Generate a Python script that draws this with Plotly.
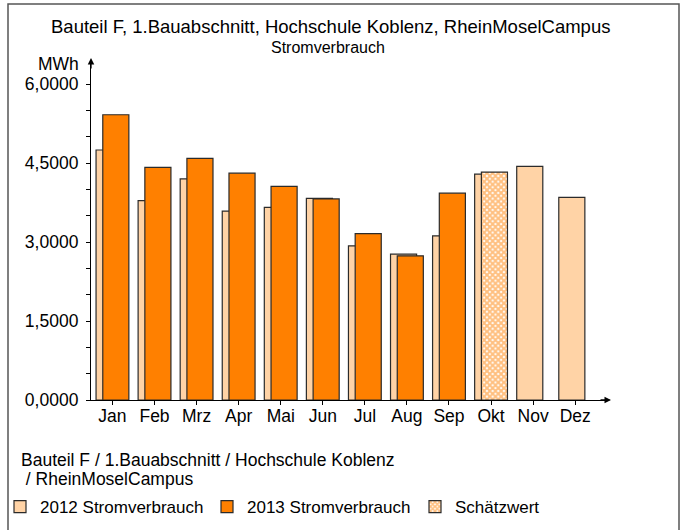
import plotly.graph_objects as go

# Monthly electricity consumption (MWh)
months = ["Jan", "Feb", "Mrz", "Apr", "Mai", "Jun", "Jul", "Aug", "Sep", "Okt", "Nov", "Dez"]
verbrauch_2012 = [4.75, 3.79, 4.20, 3.59, 3.66, 3.83, 2.93, 2.77, 3.12, 4.29, 4.44, 3.85]
months_2013 = ["Jan", "Feb", "Mrz", "Apr", "Mai", "Jun", "Jul", "Aug", "Sep"]
verbrauch_2013 = [5.42, 4.42, 4.59, 4.31, 4.06, 3.82, 3.16, 2.74, 3.93]
months_schaetz = ["Okt"]
schaetzwert = [4.33]

COLORS = {
    'light': '#FFD3A6',
    'orange': '#FF8000',
    'edge': '#2B2B2B',
    'text': '#000000',
}

W, H = 683, 530
L, R, T, B = 91, 75, 60, 130
PW, PH = W - L - R, H - T - B


def px_x(x):
    return (x - L) / PW


def px_y(y):
    return (H - B - y) / PH


BAR_W = 0.62
SHIFT = 0.08
edge = dict(color=COLORS['edge'], width=1.2)

fig = go.Figure()
fig.add_trace(go.Bar(x=months, y=verbrauch_2012, name="2012 Stromverbrauch",
                     width=BAR_W, offset=-BAR_W / 2 - SHIFT, legend='legend',
                     marker=dict(color=COLORS['light'], line=edge)))
fig.add_trace(go.Bar(x=months_2013, y=verbrauch_2013, name="2013 Stromverbrauch",
                     width=BAR_W, offset=-BAR_W / 2 + SHIFT, legend='legend2',
                     marker=dict(color=COLORS['orange'], line=edge)))
fig.add_trace(go.Bar(x=months_schaetz, y=schaetzwert, name="Schätzwert",
                     width=BAR_W, offset=-BAR_W / 2 + SHIFT, legend='legend3',
                     marker=dict(color='white', line=edge,
                                 pattern=dict(shape="x", fgcolor=COLORS['orange'],
                                              bgcolor='white', size=4, solidity=0.75))))

# legends are placed in container coordinates so they do not push the margins
legend_style = dict(orientation='h', xref='container', yref='container',
                    y=1 - 489 / H, xanchor='left', yanchor='top',
                    font=dict(size=17), itemwidth=30, bgcolor='rgba(0,0,0,0)')

fig.update_layout(
    width=W, height=H,
    barmode='overlay',
    separators=',.',
    plot_bgcolor='white', paper_bgcolor='white',
    font=dict(family="Liberation Sans, Arial, sans-serif", size=17, color=COLORS['text']),
    margin=dict(l=L, r=R, t=T, b=B),
    xaxis=dict(type='category', categoryorder='array', categoryarray=months,
               range=[-0.51, 11.78], showline=True, linecolor='black', linewidth=1.2,
               ticks='outside', ticklen=4, tickcolor='black', showgrid=False,
               tickfont=dict(size=17.5), ticklabelstandoff=-4),
    yaxis=dict(range=[0, 6.46], tick0=0, dtick=1.5, tickformat='.4f',
               showline=True, linecolor='black', linewidth=1.2,
               ticks='outside', ticklen=4, tickcolor='black', showgrid=False, zeroline=False,
               minor=dict(dtick=0.5, ticks='outside', ticklen=4, tickcolor='black'),
               tickfont=dict(size=17.5), ticklabelstandoff=4),
    showlegend=True,
    legend=dict(x=-3 / W, **legend_style),
    legend2=dict(x=207 / W, **legend_style),
    legend3=dict(x=415 / W, **legend_style),
    shapes=[dict(type='rect', xref='paper', yref='paper',
                 x0=px_x(8), x1=px_x(679), y0=px_y(545), y1=px_y(4),
                 line=dict(color='#555555', width=1.5), fillcolor='rgba(0,0,0,0)')],
)

annotations = [
    dict(text="Bauteil F, 1.Bauabschnitt, Hochschule Koblenz, RheinMoselCampus",
         x=px_x(330), y=px_y(27), font=dict(size=18.5)),
    dict(text="Stromverbrauch", x=px_x(328), y=px_y(48), font=dict(size=16)),
    dict(text="MWh", x=px_x(81), y=px_y(64), xanchor='right', font=dict(size=17.5)),
    dict(text="Bauteil F / 1.Bauabschnitt / Hochschule Koblenz",
         x=px_x(19), y=px_y(460), xanchor='left', font=dict(size=17.5)),
    dict(text=" / RheinMoselCampus",
         x=px_x(19), y=px_y(479), xanchor='left', font=dict(size=17.5)),
]
for a in annotations:
    a.setdefault('xanchor', 'center')
    fig.add_annotation(xref='paper', yref='paper', yanchor='middle', showarrow=False, **a)

# axis arrows
fig.add_annotation(xref='paper', yref='paper', x=0, y=px_y(58), ax=0, ay=12,
                   text='', showarrow=True, arrowhead=2, arrowsize=1, arrowwidth=1.3, arrowcolor='black')
fig.add_annotation(xref='paper', yref='paper', x=px_x(611), y=0, ax=-12, ay=0,
                   text='', showarrow=True, arrowhead=2, arrowsize=1, arrowwidth=1.3, arrowcolor='black')

fig.write_html("out.html", config={'displayModeBar': False},
               post_script="document.body.style.margin='0';")
